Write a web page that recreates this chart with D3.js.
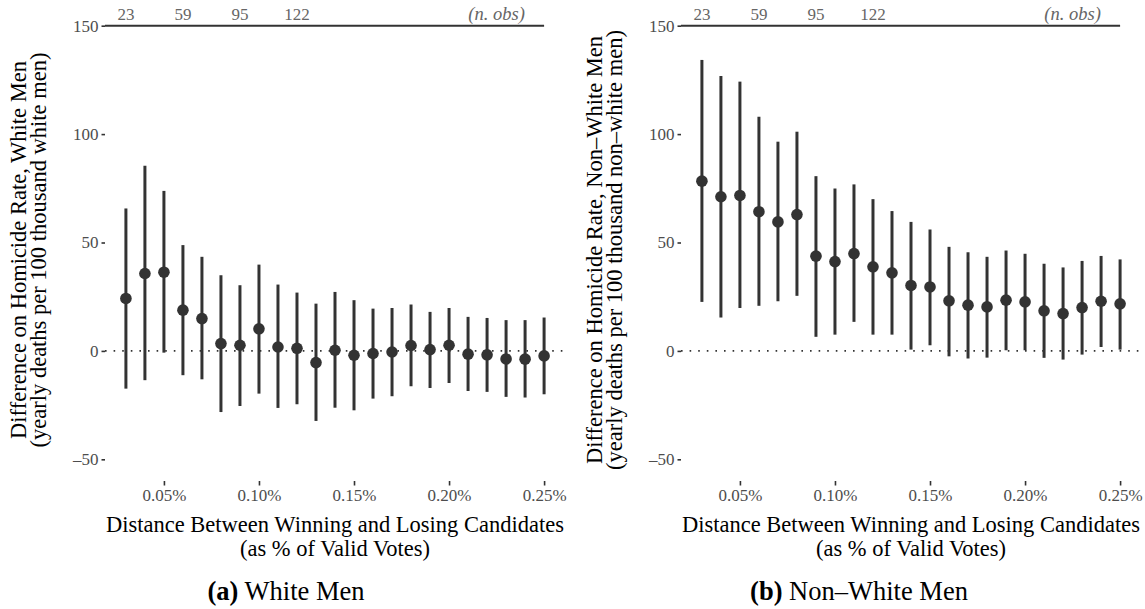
<!DOCTYPE html>
<html><head><meta charset="utf-8">
<script src="https://cdn.jsdelivr.net/npm/d3@7"></script>
<style>
html,body{margin:0;padding:0;background:#fff;}
svg{display:block;font-family:"Liberation Serif","Times New Roman",serif;}
</style></head>
<body>
<svg id="chart" width="1145" height="609"></svg>
<script>
// ---- data ----
const margins = [0.03,0.04,0.05,0.06,0.07,0.08,0.09,0.10,0.11,0.12,0.13,0.14,0.15,0.16,0.17,0.18,0.19,0.20,0.21,0.22,0.23,0.24,0.25];
const whiteEst = [24.2,35.7,36.3,18.8,14.9,3.4,2.6,10.2,1.8,1.2,-5.4,0.3,-2.0,-1.2,-0.5,2.5,0.6,2.6,-1.5,-1.8,-3.7,-3.8,-2.3];
const whiteLo  = [-17.4,-13.5,-0.8,-11.2,-13.1,-28.2,-25.4,-19.7,-26.3,-24.6,-32.3,-26.2,-27.4,-22.0,-20.9,-16.3,-17.1,-14.8,-18.5,-18.9,-21.2,-21.5,-20.0];
const whiteHi  = [65.7,85.4,73.8,48.8,43.4,34.9,30.3,39.8,30.6,26.9,21.8,27.2,23.4,19.5,19.8,21.4,18.0,19.8,15.7,15.2,14.2,14.2,15.4];
const nonWhiteEst = [78.3,71.1,71.7,64.2,59.5,62.9,43.7,41.2,44.9,38.8,36.0,30.2,29.5,23.1,21.1,20.3,23.4,22.6,18.5,17.2,20.0,22.9,21.7];
const nonWhiteLo  = [22.6,15.4,19.8,20.8,22.9,25.4,6.5,7.5,13.4,7.5,7.5,0.6,2.6,-2.5,-3.5,-3.1,0.3,0.3,-3.2,-4.0,-1.7,1.8,0.6];
const nonWhiteHi  = [134.2,126.8,124.2,108.0,96.5,101.1,80.6,74.9,76.8,70.0,64.5,59.5,56.0,48.0,45.5,43.4,46.3,44.8,40.2,38.5,41.5,43.8,42.2];
const nobsAt = [0.03,0.06,0.09,0.12];
const nobsLabels = ["23","59","95","122"];
const nobsTitle = "(n. obs)";
const yTicks = [-50,0,50,100,150];
const xTicks = [0.05,0.10,0.15,0.20,0.25];
const xTickLabels = ["0.05%","0.10%","0.15%","0.20%","0.25%"];

const panels = [
  {est: whiteEst, lo: whiteLo, hi: whiteHi, x0: 105, x1: 565,
   yTitle: ["Difference on Homicide Rate, White Men","(yearly deaths per 100 thousand white men)"],
   capBold: "(a)", cap: " White Men", capX: 286},
  {est: nonWhiteEst, lo: nonWhiteLo, hi: nonWhiteHi, x0: 681, x1: 1141,
   yTitle: ["Difference on Homicide Rate, Non\u2013White Men","(yearly deaths per 100 thousand non\u2013white men)"],
   capBold: "(b)", cap: " Non\u2013White Men", capX: 859}
];

const svg = d3.select("#chart");
const y = d3.scaleLinear().domain([-60,160]).range([481,4]);
const dark = "#333333", grey = "#4d4d4d";

panels.forEach(p => {
  const x = d3.scaleLinear().domain([0.019,0.261]).range([p.x0,p.x1]);
  const g = svg.append("g");

  // y axis
  const ya = g.append("g").attr("transform",`translate(${p.x0},0)`)
    .call(d3.axisLeft(y).tickValues(yTicks).tickSize(3.5).tickPadding(3).tickFormat(d => d < 0 ? "\u2013"+Math.abs(d) : d));
  ya.select(".domain").remove();
  ya.selectAll(".tick line").attr("stroke",dark).attr("stroke-width",1.6);
  ya.selectAll(".tick text").attr("fill",grey).attr("font-size",17).attr("font-family","Liberation Serif");

  // x axis
  const xa = g.append("g").attr("transform","translate(0,481)")
    .call(d3.axisBottom(x).tickValues(xTicks).tickSize(4.5).tickPadding(3).tickFormat((d,i)=>xTickLabels[i]));
  xa.select(".domain").remove();
  xa.selectAll(".tick line").attr("stroke",dark).attr("stroke-width",1.6);
  xa.selectAll(".tick text").attr("fill",grey).attr("font-size",17).attr("font-family","Liberation Serif");

  // zero dotted line
  g.append("line").attr("x1",x(0.019)).attr("x2",x(0.261)).attr("y1",y(0)).attr("y2",y(0))
    .attr("stroke",dark).attr("stroke-width",1.6).attr("stroke-dasharray","1.6,7");

  // top n.obs line
  g.append("line").attr("x1",x(0.019)).attr("x2",x(0.25)).attr("y1",y(150)).attr("y2",y(150))
    .attr("stroke",dark).attr("stroke-width",2);
  g.selectAll(".nobs").data(nobsLabels).enter().append("text")
    .attr("x",(d,i)=>x(nobsAt[i])).attr("y",y(152.5)).attr("text-anchor","middle")
    .attr("fill","#666").attr("font-size",17).text(d=>d);
  g.append("text").attr("x",x(0.225)).attr("y",y(152.5)).attr("text-anchor","middle")
    .attr("fill","#666").attr("font-size",18.5).style("font-style","italic").text(nobsTitle);

  // error bars
  g.selectAll(".bar").data(margins).enter().append("line")
    .attr("x1",d=>x(d)).attr("x2",d=>x(d))
    .attr("y1",(d,i)=>y(p.lo[i])).attr("y2",(d,i)=>y(p.hi[i]))
    .attr("stroke",dark).attr("stroke-width",3);
  g.selectAll(".pt").data(margins).enter().append("circle")
    .attr("cx",d=>x(d)).attr("cy",(d,i)=>y(p.est[i])).attr("r",5.8)
    .attr("fill",dark);

  // axis titles
  const cx = (p.x0+p.x1)/2;
  g.append("text").attr("x",cx).attr("y",532).attr("text-anchor","middle")
    .attr("font-size",22.5).attr("fill","#000").text("Distance Between Winning and Losing Candidates");
  g.append("text").attr("x",cx).attr("y",556).attr("text-anchor","middle")
    .attr("font-size",22.5).attr("fill","#000").text("(as % of Valid Votes)");
  const cy = 250;
  p.yTitle.forEach((t,i)=>{
    g.append("text").attr("transform",`translate(${p.x0-79+i*20},${cy}) rotate(-90)`)
      .attr("text-anchor","middle").attr("font-size",22.5).attr("fill","#000").text(t);
  });

  // caption
  const cap = g.append("text").attr("x",p.capX).attr("y",600).attr("text-anchor","middle")
    .attr("font-size",26.5).attr("fill","#000");
  cap.append("tspan").style("font-weight","bold").text(p.capBold);
  cap.append("tspan").text(p.cap);
});
</script>
</body></html>
